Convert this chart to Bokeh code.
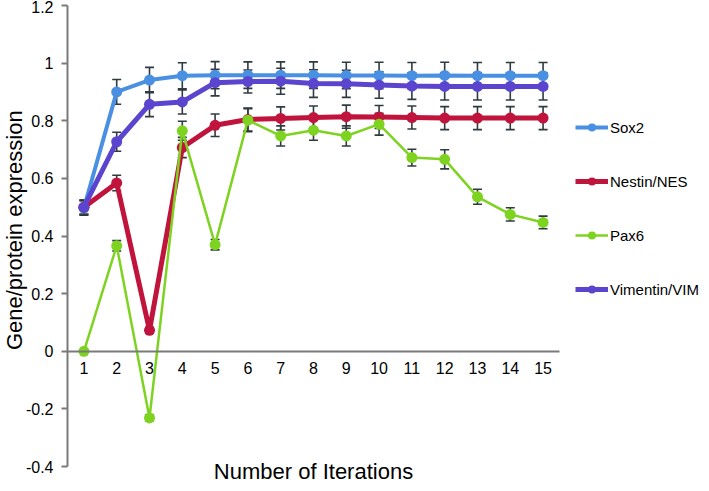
import math
from bokeh.plotting import figure
from bokeh.models import (ColumnDataSource, Whisker, TeeHead, Legend,
                          LegendItem, FixedTicker, Range1d, Label)
from bokeh.embed import file_html
from bokeh.resources import INLINE

iterations = list(range(1, 16))

sox2 = [0.497, 0.900, 0.941, 0.956, 0.958, 0.958, 0.958, 0.958, 0.957, 0.957, 0.956, 0.957, 0.956, 0.956, 0.956]
sox2_err = [0.025, 0.043, 0.044, 0.045, 0.047, 0.046, 0.046, 0.046, 0.046, 0.046, 0.046, 0.046, 0.046, 0.046, 0.046]

nestin = [0.500, 0.584, 0.073, 0.707, 0.784, 0.804, 0.808, 0.811, 0.814, 0.813, 0.811, 0.809, 0.809, 0.809, 0.809]
nestin_err = [0.025, 0.027, 0.010, 0.035, 0.039, 0.040, 0.040, 0.040, 0.040, 0.040, 0.040, 0.040, 0.040, 0.040, 0.040]

pax6 = [0.000, 0.366, -0.231, 0.765, 0.370, 0.802, 0.747, 0.767, 0.747, 0.788, 0.672, 0.666, 0.536, 0.475, 0.447]
pax6_err = [0.000, 0.018, 0.010, 0.033, 0.018, 0.040, 0.035, 0.035, 0.035, 0.038, 0.029, 0.033, 0.026, 0.023, 0.022]

vimentin = [0.500, 0.727, 0.857, 0.865, 0.932, 0.936, 0.937, 0.929, 0.928, 0.924, 0.920, 0.919, 0.919, 0.919, 0.919]
vimentin_err = [0.025, 0.033, 0.043, 0.042, 0.046, 0.040, 0.045, 0.048, 0.047, 0.046, 0.046, 0.047, 0.047, 0.047, 0.047]

series_names = ["Sox2", "Nestin/NES", "Pax6", "Vimentin/VIM"]
series_values = [sox2, nestin, pax6, vimentin]
series_errors = [sox2_err, nestin_err, pax6_err, vimentin_err]
series_colors = ["#4A90E2", "#C0143C", "#7ED321", "#5B45CF"]
series_widths = [4, 5, 2.5, 5]

y_ticks = [-0.4, -0.2, 0, 0.2, 0.4, 0.6, 0.8, 1, 1.2]
y_tick_labels = {-0.4: "-0.4", -0.2: "-0.2", 0: "0", 0.2: "0.2", 0.4: "0.4",
                 0.6: "0.6", 0.8: "0.8", 1: "1", 1.2: "1.2"}

FONT = "Liberation Sans"

# The frame fills the whole canvas; both axes are drawn at fixed locations
# (y axis at x = 0.5, x axis at y = 0) and bounded to the data extent.
p = figure(width=700, height=486, output_backend="svg", toolbar_location=None,
           x_range=Range1d(-1.543, 19.80), y_range=Range1d(-0.469, 1.217),
           min_border=0, min_border_left=0, min_border_right=0,
           min_border_top=0, min_border_bottom=0)
p.outline_line_color = None
p.grid.visible = False
p.background_fill_color = "white"
p.border_fill_color = "white"

# y axis
yax = p.yaxis[0]
yax.fixed_location = 0.5
yax.bounds = (-0.4, 1.2)
yax.ticker = FixedTicker(ticks=y_ticks)
yax.major_label_overrides = y_tick_labels
yax.axis_line_color = "#7a7a7a"
yax.axis_line_width = 2
yax.major_tick_line_color = "#7a7a7a"
yax.major_tick_line_width = 2
yax.major_tick_in = 0
yax.major_tick_out = 6
yax.minor_tick_line_color = None
yax.major_label_standoff = 8
yax.major_label_text_font = FONT
yax.major_label_text_font_size = "16px"
yax.major_label_text_color = "black"

# x axis drawn at y = 0
xax = p.xaxis[0]
xax.fixed_location = 0
xax.bounds = (0.5, 15.5)
xax.ticker = FixedTicker(ticks=iterations)
xax.axis_line_color = "#7a7a7a"
xax.axis_line_width = 2
xax.major_tick_line_color = None
xax.minor_tick_line_color = None
xax.major_tick_in = 0
xax.major_tick_out = 0
xax.major_label_standoff = 11
xax.major_label_text_font = FONT
xax.major_label_text_font_size = "16px"
xax.major_label_text_color = "black"

legend_items = []
for name, vals, errs, color, lw in zip(series_names, series_values, series_errors,
                                        series_colors, series_widths):
    src = ColumnDataSource(dict(
        x=iterations, y=vals,
        upper=[v + e for v, e in zip(vals, errs)],
        lower=[v - e for v, e in zip(vals, errs)],
    ))
    ln = p.line("x", "y", source=src, line_color=color, line_width=lw)
    wk = Whisker(base="x", upper="upper", lower="lower", source=src,
                 line_color="#2F3B3F", line_width=1.6,
                 upper_head=TeeHead(size=9, line_color="#2F3B3F", line_width=1.6),
                 lower_head=TeeHead(size=9, line_color="#2F3B3F", line_width=1.6),
                 level="underlay")
    p.add_layout(wk)
    sc = p.scatter("x", "y", source=src, size=11, fill_color=color,
                   line_color=color, line_width=0)
    legend_items.append(LegendItem(label=name, renderers=[ln, sc]))

legend = Legend(items=legend_items, location=(575, 187),
                glyph_width=33, glyph_height=20, label_height=20,
                label_standoff=2, spacing=34, padding=0, margin=0,
                border_line_color=None, background_fill_alpha=0,
                label_text_font=FONT, label_text_font_size="15px",
                label_text_color="black")
p.add_layout(legend)

ylab = Label(x=0.5, y=0.42, x_offset=-53, text="Gene/protein expression",
             angle=math.pi / 2, text_align="center", text_baseline="middle",
             text_font=FONT, text_font_size="22px", text_color="black")
p.add_layout(ylab)

xlab = Label(x=8, y=-0.4, y_offset=-5, text="Number of Iterations",
             text_align="center", text_baseline="middle",
             text_font=FONT, text_font_size="22px", text_color="black")
p.add_layout(xlab)

open("out.html", "w").write(file_html(p, INLINE))
